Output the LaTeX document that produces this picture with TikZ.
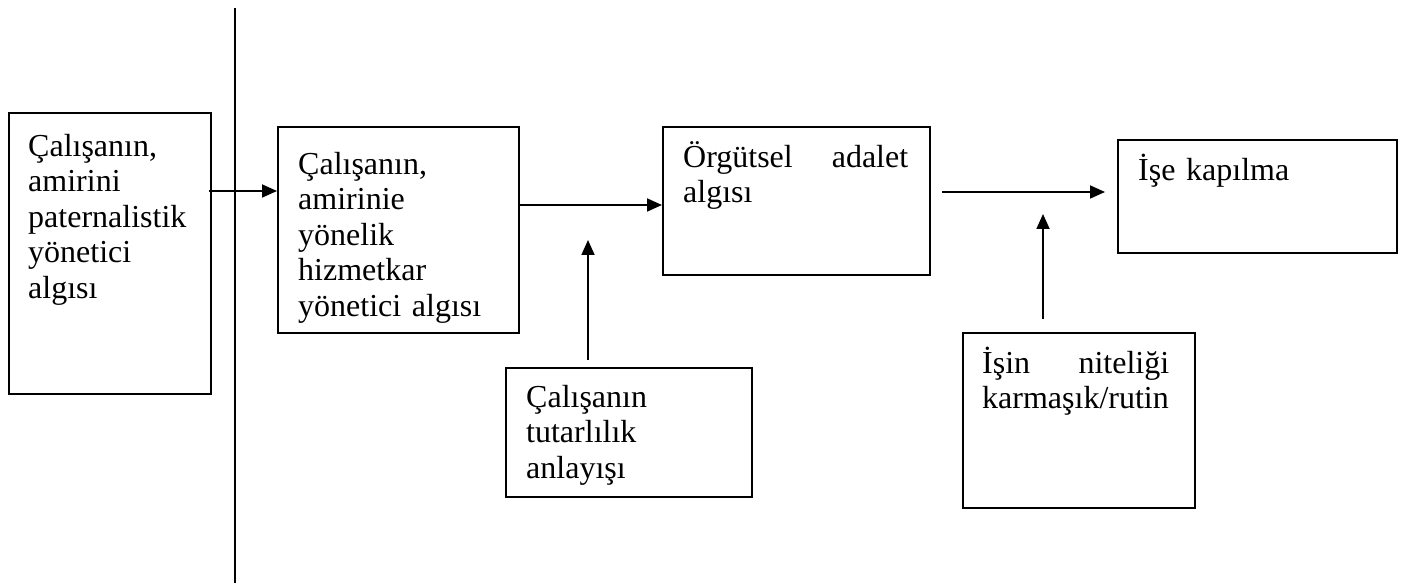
\documentclass[tikz,border=0pt]{standalone}
\usepackage{fontspec}
\setmainfont{Liberation Serif}
\usetikzlibrary{arrows.meta}
\newcommand{\tstrut}{\rule{0pt}{30pt}}
\begin{document}
\begin{tikzpicture}[x=1pt,y=-1pt,
  boxnode/.style={draw,line width=1.8pt,anchor=north west,inner sep=0pt},
  txt/.style={anchor=north west,inner sep=0pt,align=left,font={\fontsize{32}{35.5}\selectfont}},
  arr/.style={line width=1.8pt,-{Triangle[length=15pt,width=13pt]}},
  plain/.style={line width=1.8pt}]
\useasboundingbox (0,0) rectangle (1403,585);
% boxes
\node[boxnode,minimum width=202pt,minimum height=281pt] (b1) at (8,112) {};
\node[boxnode,minimum width=241pt,minimum height=206pt] (b2) at (277,126) {};
\node[boxnode,minimum width=267pt,minimum height=148pt] (b3) at (662,126) {};
\node[boxnode,minimum width=279pt,minimum height=113pt] (b4) at (1117,139) {};
\node[boxnode,minimum width=246pt,minimum height=129pt] (b5) at (505,367) {};
\node[boxnode,minimum width=232pt,minimum height=175pt] (b6) at (962,332) {};
% texts
\node[txt,text width=175pt] (t1) at (28,126) {\tstrut Çalışanın,\\amirini\\paternalistik\\yönetici\\algısı};
\node[txt,text width=205pt] (t2) at (298,144) {\tstrut Çalışanın,\\amirinie\\yönelik\\hizmetkar\\yönetici algısı};
\node[txt,text width=225pt] (t3) at (683,137) {\tstrut Örgütsel\hfill adalet\\algısı};
\node[txt,text width=240pt] (t4) at (1138,150) {\tstrut İşe kapılma};
\node[txt,text width=210pt] (t5) at (526,377) {\tstrut Çalışanın\\tutarlılık\\anlayışı};
\node[txt,text width=187pt] (t6) at (982,343) {\tstrut İşin\hfill niteliği\\karmaşık/rutin};
% divider line
\coordinate (vtop) at (235,8);
\coordinate (vbot) at (235,583);
\draw[plain] (vtop) -- (vbot);
% arrows
\draw[arr] ([xshift=-3pt]b1.east |- 0,191) -- (b2.west |- 0,191);
\draw[arr] (b2.east |- 0,205) -- (b3.west |- 0,205);
\coordinate (a3s) at (942,192);
\coordinate (a3e) at (1105,192);
\draw[arr] (a3s) -- (a3e);
\coordinate (v1s) at (588,360);
\coordinate (v1e) at (588,240);
\draw[arr] (v1s) -- (v1e);
\coordinate (v2s) at (1043,319);
\coordinate (v2e) at (1043,214);
\draw[arr] (v2s) -- (v2e);
\end{tikzpicture}
\end{document}
